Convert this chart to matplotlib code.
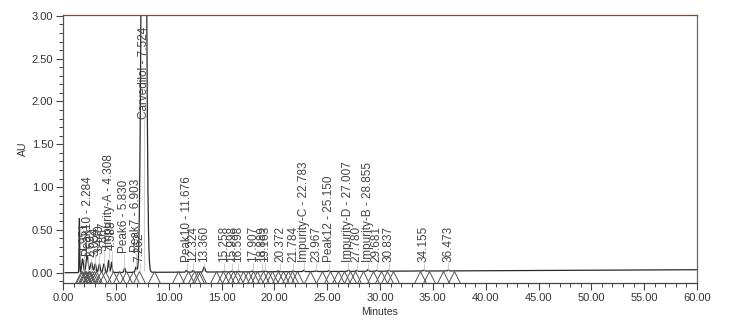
"""
HPLC chromatogram (Carvedilol related substances) rebuilt from the printed trace.
"""
import numpy as np
import matplotlib
matplotlib.use('Agg')
import matplotlib.pyplot as plt
from matplotlib.ticker import MultipleLocator

# --- peak table: retention time (min), height (AU), width (min) ---
peak_rt     = [1.55, 1.85, 2.28, 2.69, 3.05, 3.44, 3.87, 4.31, 4.59, 5.83, 6.90, 7.26, 7.65,
               11.68, 12.32, 13.36, 15.26, 16.00, 16.60, 17.91, 18.89, 19.16, 20.37, 21.78,
               22.78, 23.97, 25.15, 27.01, 27.78, 28.86, 29.68, 30.84, 34.16, 36.47]
peak_height = [0.63, 0.16, 0.20, 0.12, 0.10, 0.10, 0.10, 0.14, 0.12, 0.05, 0.06, 0.10, 10.0,
               0.02, 0.02, 0.06, 0.01, 0.01, 0.01, 0.01, 0.01, 0.01, 0.01, 0.01,
               0.015, 0.01, 0.01, 0.015, 0.01, 0.02, 0.01, 0.01, 0.01, 0.01]
peak_width  = [0.03, 0.08, 0.10, 0.10, 0.08, 0.08, 0.08, 0.06, 0.06, 0.06, 0.07, 0.05, 0.18,
               0.06, 0.06, 0.08, 0.06, 0.06, 0.06, 0.06, 0.06, 0.06, 0.06, 0.06,
               0.06, 0.06, 0.06, 0.06, 0.06, 0.06, 0.06, 0.06, 0.06, 0.06]
drift_start, drift_end = 0.0, 0.035   # baseline level at 0 and 60 min

# --- peak labels: text, position (min), where the text starts (AU) ---
label_text = ['1.951', 'Peak10 - 2.284', '2.692', '3.054', '3.440', '3.867',
              'Impurity-A - 4.308', '4.588', 'Peak6 - 5.830', 'Peak7 - 6.903', '7.262',
              'Carvedilol - 7.524',
              'Peak10 - 11.676', '12.324', '13.360', '15.258', '15.998', '16.598',
              '17.907', '18.889', '19.163', '20.372', '21.784', 'Impurity-C - 22.783',
              '23.967', 'Peak12 - 25.150', 'Impurity-D - 27.007', '27.780',
              'Impurity-B - 28.855', '29.681', '30.837', '34.155', '36.473']
label_x = [1.95, 2.40, 2.69, 3.05, 3.44, 3.87, 4.31, 4.59, 5.78, 6.95, 7.26, 7.68,
           11.75, 12.32, 13.33, 15.26, 16.00, 16.60, 17.95, 18.80, 19.16, 20.55, 21.78,
           22.85, 23.97, 25.15, 27.01, 27.78, 28.86, 29.68, 30.84, 34.16, 36.47]
label_y = [0.24, 0.20, 0.18, 0.20, 0.22, 0.25, 0.30, 0.26, 0.23, 0.24, 0.12, 1.80,
           0.12, 0.12, 0.12, 0.12, 0.12, 0.12, 0.12, 0.12, 0.12, 0.12, 0.12, 0.13,
           0.12, 0.12, 0.12, 0.12, 0.12, 0.12, 0.12, 0.12, 0.12]

# --- integration markers (open triangles on the baseline) ---
marker_t = [1.70, 1.82, 1.95, 2.07, 2.20, 2.33, 2.46, 2.60, 2.75, 2.90, 3.10, 3.60, 4.00,
            4.70, 5.30, 6.00, 6.60, 7.20, 8.60, 10.85, 11.80, 12.40, 12.75, 13.00,
            14.50, 15.10, 15.60, 16.10, 16.50, 17.00, 17.50, 18.00, 18.40, 18.90, 19.40,
            19.80, 20.30, 20.80, 21.30, 21.70, 22.10, 23.40, 24.50, 25.30, 26.00, 26.60,
            27.20, 27.60, 28.40, 29.30, 30.10, 30.70, 31.20, 33.80, 34.60, 36.00, 37.00]

t = np.linspace(0, 60, 12001)
signal = drift_start + (drift_end - drift_start) * t / 60
for rt, h, w in zip(peak_rt, peak_height, peak_width):
    signal = signal + h * np.exp(-0.5 * ((t - rt) / w) ** 2)
signal[t < 0.2] = np.nan

plt.rcParams['font.family'] = ['Liberation Sans', 'DejaVu Sans']

fig = plt.figure(figsize=(7.41, 3.21), dpi=100)
ax = fig.add_axes([63/741, 1 - 283/321, (697 - 63)/741, (283 - 15)/321])

ax.plot(t, signal, color='#2a2a2a', lw=0.9)
ax.plot(marker_t, [-0.055] * len(marker_t), linestyle='none', marker='^', markersize=8,
        markerfacecolor='none', markeredgecolor='#555555', markeredgewidth=0.7)

for txt, x, y in zip(label_text, label_x, label_y):
    ax.vlines(x, 0.02, y - 0.01, color='#bbbbbb', lw=0.5)
    ax.text(x, y, txt, rotation=90, ha='center', va='bottom', fontsize=8.5,
            color='#444444')

ax.set_xlim(0, 60)
ax.set_ylim(-0.12, 3.01)
ax.xaxis.set_major_locator(MultipleLocator(5))
ax.xaxis.set_minor_locator(MultipleLocator(1))
ax.yaxis.set_major_locator(MultipleLocator(0.5))
ax.yaxis.set_minor_locator(MultipleLocator(0.1))
ax.xaxis.set_major_formatter(lambda v, p: f'{v:.2f}')
ax.yaxis.set_major_formatter(lambda v, p: f'{v:.2f}')
ax.tick_params(which='major', direction='out', length=5, width=0.8, labelsize=8,
               colors='#444444', labelcolor='#333333', pad=2)
ax.tick_params(which='minor', direction='out', length=3, width=0.7, colors='#444444')

ax.spines['top'].set_color('#7a4a3a')
ax.spines['left'].set_color('#555555')
ax.spines['right'].set_color('#666666')
ax.spines['bottom'].set_color('#444444')
for s in ax.spines.values():
    s.set_linewidth(0.9)

ax.set_xlabel('Minutes', fontsize=7.6, color='#333333', labelpad=3)
ax.set_ylabel('AU', fontsize=7.6, color='#333333', labelpad=0)
ax.yaxis.set_label_coords(-0.055, 0.5)

plt.savefig('out.png', dpi=100)
plt.close()
